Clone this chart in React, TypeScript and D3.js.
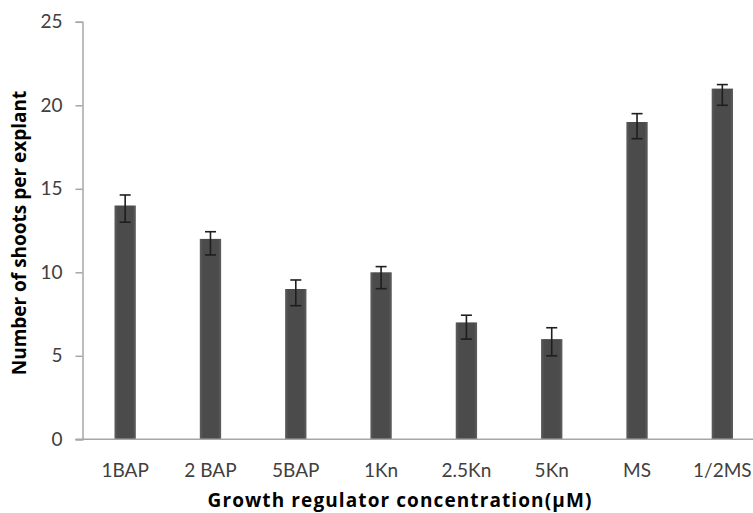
import React, { useEffect, useRef } from 'react';
import * as d3 from 'd3';

// data
const categories = ['1BAP', '2 BAP', '5BAP', '1Kn', '2.5Kn', '5Kn', 'MS', '1/2MS'];
const shoots = [14, 12, 9, 10, 7, 6, 19, 21];
const errPlus = [0.63, 0.43, 0.54, 0.34, 0.43, 0.68, 0.5, 0.24];
const errMinus = [1.0, 0.96, 1.0, 0.98, 1.0, 1.0, 1.0, 1.0];
const yTicks = [0, 5, 10, 15, 20, 25];

const W = 753;
const H = 513;

const App = () => {
  const ref = useRef<SVGSVGElement>(null);

  useEffect(() => {
    drawChart();
  }, []);

  const drawChart = () => {
    const svg = d3.select(ref.current);
    svg.selectAll('*').remove();

    const left = 82.5;
    const bottom = 439.3;
    const top = 21.8;
    const right = 765; // plot runs past the right edge of the picture

    const x = d3.scaleBand()
      .domain(categories)
      .range([left, right])
      .paddingInner(0.75)
      .paddingOuter(0.375);

    const y = d3.scaleLinear()
      .domain([0, 25])
      .range([bottom, top]);

    // bar gradient
    const defs = svg.append('defs');
    const grad = defs.append('linearGradient')
      .attr('id', 'barGrad')
      .attr('x1', '0%').attr('x2', '100%')
      .attr('y1', '0%').attr('y2', '0%');
    grad.append('stop').attr('offset', '0%').attr('stop-color', '#5e5e5e');
    grad.append('stop').attr('offset', '15%').attr('stop-color', '#4b4b4b');
    grad.append('stop').attr('offset', '85%').attr('stop-color', '#4b4b4b');
    grad.append('stop').attr('offset', '100%').attr('stop-color', '#5e5e5e');

    const axisColor = '#a6a6a6';

    // y axis
    const yAxis = svg.append('g')
      .attr('transform', `translate(${left},0)`)
      .call(d3.axisLeft(y).tickValues(yTicks).tickSize(7).tickPadding(13).tickFormat(d3.format('d')));
    yAxis.select('.domain').attr('stroke', axisColor).attr('stroke-width', 1.5);
    yAxis.selectAll('.tick line').attr('stroke', axisColor).attr('stroke-width', 1.5);
    yAxis.selectAll('.tick text')
      .attr('fill', '#404040')
      .style('font-family', 'Lato, "Open Sans", sans-serif')
      .style('font-size', '19px');

    // bars
    svg.selectAll('.bar')
      .data(shoots)
      .enter().append('rect')
      .attr('class', 'bar')
      .attr('x', (d, i) => x(categories[i]))
      .attr('width', x.bandwidth())
      .attr('y', d => y(d))
      .attr('height', d => bottom - y(d))
      .attr('fill', 'url(#barGrad)');

    // x axis line
    svg.append('line')
      .attr('x1', left - 7)
      .attr('x2', W)
      .attr('y1', bottom)
      .attr('y2', bottom)
      .attr('stroke', axisColor)
      .attr('stroke-width', 1.5);

    // category labels
    svg.selectAll('.cat')
      .data(categories)
      .enter().append('text')
      .attr('class', 'cat')
      .attr('x', d => x(d) + x.bandwidth() / 2)
      .attr('y', 476.5)
      .attr('text-anchor', 'middle')
      .attr('fill', '#404040')
      .style('font-family', 'Lato, "Open Sans", sans-serif')
      .style('font-size', '19px')
      .text(d => d);

    // error bars
    const eb = svg.selectAll('.err')
      .data(shoots)
      .enter().append('g')
      .attr('class', 'err')
      .attr('stroke', '#1e1e1e')
      .attr('stroke-width', 1.6);
    const cx = (i) => x(categories[i]) + x.bandwidth() / 2;
    eb.append('line')
      .attr('x1', (d, i) => cx(i)).attr('x2', (d, i) => cx(i))
      .attr('y1', (d, i) => y(d + errPlus[i]))
      .attr('y2', (d, i) => y(d - errMinus[i]));
    eb.append('line')
      .attr('x1', (d, i) => cx(i) - 5.5).attr('x2', (d, i) => cx(i) + 5.5)
      .attr('y1', (d, i) => y(d + errPlus[i]))
      .attr('y2', (d, i) => y(d + errPlus[i]));
    eb.append('line')
      .attr('x1', (d, i) => cx(i) - 5.5).attr('x2', (d, i) => cx(i) + 5.5)
      .attr('y1', (d, i) => y(d - errMinus[i]))
      .attr('y2', (d, i) => y(d - errMinus[i]));

    // axis titles
    svg.append('text')
      .attr('x', 400)
      .attr('y', 507)
      .attr('text-anchor', 'middle')
      .attr('fill', '#000')
      .style('font-family', '"Open Sans", Lato, sans-serif')
      .style('font-weight', 'bold')
      .style('font-size', '19px')
      .style('letter-spacing', '1.1px')
      .text('Growth regulator concentration(\u00b5M)');

    svg.append('text')
      .attr('transform', 'translate(26,233) rotate(-90)')
      .attr('text-anchor', 'middle')
      .attr('fill', '#000')
      .style('font-family', '"Open Sans", Lato, sans-serif')
      .style('font-weight', 'bold')
      .style('font-size', '19px')
      .text('Number of shoots per explant');
  };

  return (
    <svg
      ref={ref}
      width={W}
      height={H}
      style={{ position: 'absolute', left: 0, top: 0, background: '#fff' }}
    />
  );
};

export default App;
